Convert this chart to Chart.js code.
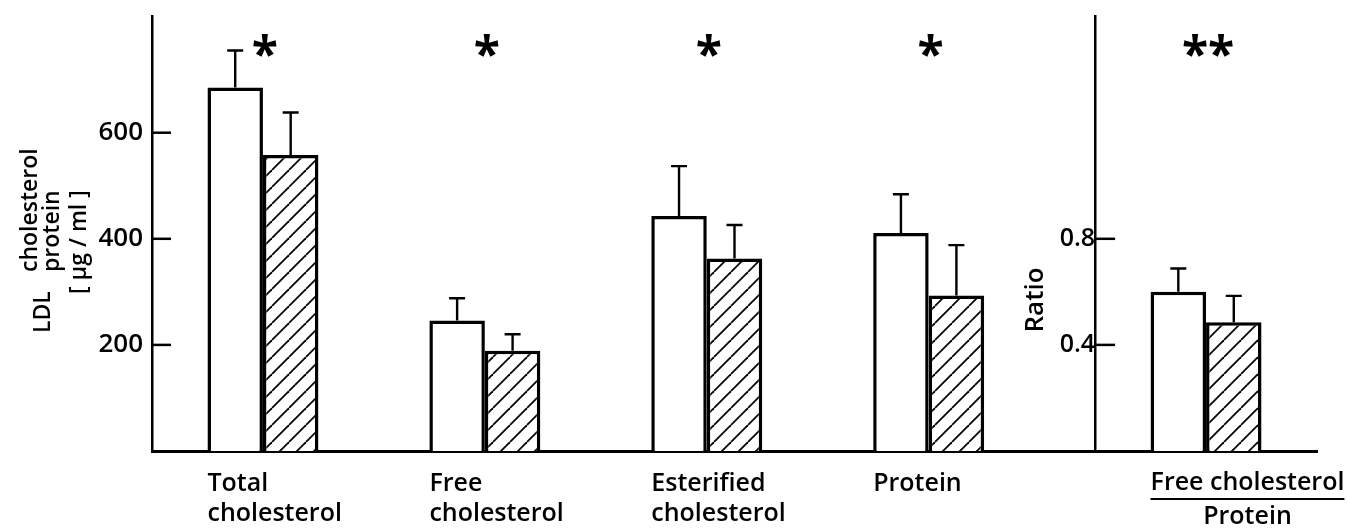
<!DOCTYPE html>
<html>
<head>
<meta charset="utf-8">
<script src="https://cdn.jsdelivr.net/npm/chart.js@4.4.1/dist/chart.umd.min.js"></script>
<style>
  html, body { margin: 0; padding: 0; background: #fff; }
  #wrap { width: 1347px; height: 530px; position: relative; }
</style>
</head>
<body>
<div id="wrap"><canvas id="barChart"></canvas></div>
<script>
// values (open = control, hatched = treated)
const categories = [["Total", "cholesterol"], ["Free", "cholesterol"], ["Esterified", "cholesterol"], ["Protein"]];
const ratioLabel = ["Free cholesterol", "Protein"];
const controlMean = [685, 246, 443, 411];
const controlSD = [70, 42, 94, 73];
const treatedMean = [558, 189, 363, 293];
const treatedSD = [80, 31, 63, 95];
const ratioMean = [0.60, 0.485];
const ratioSD = [0.088, 0.10];
const significance = ["*", "*", "*", "*", "**"];
const leftTicks = [200, 400, 600];
const ratioTicks = [0.4, 0.8];

// x layout in bar-width slots
const groupX = [0, 4, 8, 12, 17];
const ratioAxisX = 15;

const FONT = "'Open Sans', 'DejaVu Sans', sans-serif";

function hatchPattern() {
    const s = 17;
    const c = document.createElement("canvas");
    c.width = s;
    c.height = s;
    const g = c.getContext("2d");
    g.fillStyle = "#fff";
    g.fillRect(0, 0, s, s);
    g.strokeStyle = "#000";
    g.lineWidth = 1.8;
    for (const k of [-s, 0, s]) {
        g.beginPath();
        g.moveTo(k, s);
        g.lineTo(k + s, 0);
        g.stroke();
    }
    return g.createPattern(c, "repeat");
}

// left-panel series padded with null at the ratio slot, ratio series the other way round
const leftPoints = (vals) => groupX.map((x, i) => ({ x: x, y: i < vals.length ? vals[i] : null }));
const ratioPoints = (v) => groupX.map((x, i) => ({ x: x, y: i === groupX.length - 1 ? v : null }));
const leftErr = (sd) => groupX.map((x, i) => (i < sd.length ? sd[i] : null));
const ratioErr = (sd) => groupX.map((x, i) => (i === groupX.length - 1 ? sd : null));

const hatch = hatchPattern();

const datasets = [
    { label: "control", data: leftPoints(controlMean), err: leftErr(controlSD), yAxisID: "y", backgroundColor: "#fff" },
    { label: "treated", data: leftPoints(treatedMean), err: leftErr(treatedSD), yAxisID: "y", backgroundColor: hatch },
    { label: "ratio control", data: ratioPoints(ratioMean[0]), err: ratioErr(ratioSD[0]), yAxisID: "y2", backgroundColor: "#fff" },
    { label: "ratio treated", data: ratioPoints(ratioMean[1]), err: ratioErr(ratioSD[1]), yAxisID: "y2", backgroundColor: hatch },
];

const errorBars = {
    id: "errorBars",
    afterDatasetsDraw(chart) {
        const ctx = chart.ctx;
        ctx.save();
        ctx.strokeStyle = "#000";
        ctx.lineWidth = 2.4;
        chart.data.datasets.forEach((ds, d) => {
            const meta = chart.getDatasetMeta(d);
            const scale = chart.scales[ds.yAxisID];
            meta.data.forEach((bar, i) => {
                const v = ds.data[i].y;
                if (v === null || ds.err[i] === null) return;
                const top = scale.getPixelForValue(v + ds.err[i]);
                ctx.beginPath();
                ctx.moveTo(bar.x, bar.y);
                ctx.lineTo(bar.x, top);
                ctx.moveTo(bar.x - 8, top);
                ctx.lineTo(bar.x + 8, top);
                ctx.stroke();
            });
        });
        ctx.restore();
    },
};

function vText(ctx, str, xBase, yStart) {
    ctx.save();
    ctx.translate(xBase, yStart);
    ctx.rotate(-Math.PI / 2);
    ctx.textAlign = "left";
    ctx.textBaseline = "alphabetic";
    ctx.fillText(str, 0, 0);
    ctx.restore();
}

const decorations = {
    id: "decorations",
    afterDraw(chart) {
        const { ctx, chartArea } = chart;
        const { x, y, y2 } = chart.scales;
        ctx.save();
        ctx.strokeStyle = "#000";
        ctx.fillStyle = "#000";

        // inward tick marks
        ctx.lineWidth = 2.5;
        const ratioAxisPx = x.getPixelForValue(ratioAxisX);
        leftTicks.forEach((v) => {
            const py = y.getPixelForValue(v);
            ctx.beginPath();
            ctx.moveTo(chartArea.left, py);
            ctx.lineTo(chartArea.left + 19, py);
            ctx.stroke();
        });
        ratioTicks.forEach((v) => {
            const py = y2.getPixelForValue(v);
            ctx.beginPath();
            ctx.moveTo(ratioAxisPx, py);
            ctx.lineTo(ratioAxisPx + 20, py);
            ctx.stroke();
        });

        // significance marks
        ctx.font = "700 48px " + FONT;
        ctx.textAlign = "center";
        ctx.textBaseline = "alphabetic";
        significance.forEach((s, i) => {
            ctx.fillText(s, x.getPixelForValue(groupX[i]) + 2, chartArea.top + 55);
        });

        // y titles
        ctx.font = "600 23px " + FONT;
        vText(ctx, "LDL", 50, 333);
        vText(ctx, "cholesterol", 37, 272);
        vText(ctx, "protein", 59, 272);
        vText(ctx, "[ µg / ml ]", 86, 294);
        ctx.font = "600 26px " + FONT;
        ctx.save();
        ctx.translate(1043, 300);
        ctx.rotate(-Math.PI / 2);
        ctx.textAlign = "center";
        ctx.fillText("Ratio", 0, 0);
        ctx.restore();

        // ratio category label (fraction)
        const lx = x.getPixelForValue(groupX[4] - 1);
        ctx.font = "600 25px " + FONT;
        ctx.textAlign = "left";
        const w = ctx.measureText(ratioLabel[0]).width;
        ctx.fillText(ratioLabel[0], lx, 490);
        ctx.lineWidth = 2;
        ctx.beginPath();
        ctx.moveTo(lx, 499);
        ctx.lineTo(lx + w, 499);
        ctx.stroke();
        ctx.textAlign = "center";
        ctx.fillText(ratioLabel[1], lx + w / 2, 524);
        ctx.restore();
    },
};

const noOverflow = (s) => {
    s.paddingTop = 0;
    s.paddingBottom = 0;
};

const ctx = document.getElementById("barChart");
const chart = new Chart(ctx, {
    type: "bar",
    data: { datasets: datasets },
    plugins: [errorBars, decorations],
    options: {
        responsive: true,
        maintainAspectRatio: false,
        animation: false,
        layout: { padding: { top: 16, right: 30, left: 0, bottom: 0 } },
        plugins: { legend: { display: false }, tooltip: { enabled: false } },
        datasets: {
            bar: {
                skipNull: true,
                categoryPercentage: 0.5,
                barPercentage: 1,
                borderWidth: 3.5,
                borderColor: "#000",
                borderSkipped: "start",
            },
        },
        scales: {
            x: {
                type: "linear",
                min: -2,
                max: 19,
                offset: false,
                grid: { display: false, drawTicks: false, tickLength: 0 },
                border: { display: true, color: "#000", width: 3 },
                afterBuildTicks: (s) => {
                    s.ticks = categories.map((c, i) => ({ value: groupX[i] - 1 }));
                },
                afterFit: (s) => {
                    s.height = 79;
                    s.paddingLeft = 0;
                    s.paddingRight = 0;
                },
                ticks: {
                    autoSkip: false,
                    maxRotation: 0,
                    align: "start",
                    padding: 18,
                    color: "#000",
                    font: { family: FONT, size: 25, weight: 600 },
                    callback: (v, i) => categories[i],
                },
            },
            y: {
                position: "left",
                min: 0,
                max: 820,
                grid: { display: false, drawTicks: false, tickLength: 0 },
                border: { display: true, color: "#000", width: 2.5 },
                afterBuildTicks: (s) => {
                    s.ticks = leftTicks.map((v) => ({ value: v }));
                },
                afterFit: (s) => {
                    s.width = 152;
                    noOverflow(s);
                },
                ticks: { padding: 9, color: "#000", font: { family: FONT, size: 26, weight: 600 } },
            },
            y2: {
                position: { x: ratioAxisX },
                min: 0,
                max: 1.64,
                grid: { display: false, drawTicks: false, tickLength: 0 },
                border: { display: true, color: "#000", width: 2.5 },
                afterBuildTicks: (s) => {
                    s.ticks = ratioTicks.map((v) => ({ value: v }));
                },
                afterFit: noOverflow,
                ticks: { padding: 13, color: "#000", font: { family: FONT, size: 25, weight: 600 } },
            },
        },
    },
});
</script>
</body>
</html>
